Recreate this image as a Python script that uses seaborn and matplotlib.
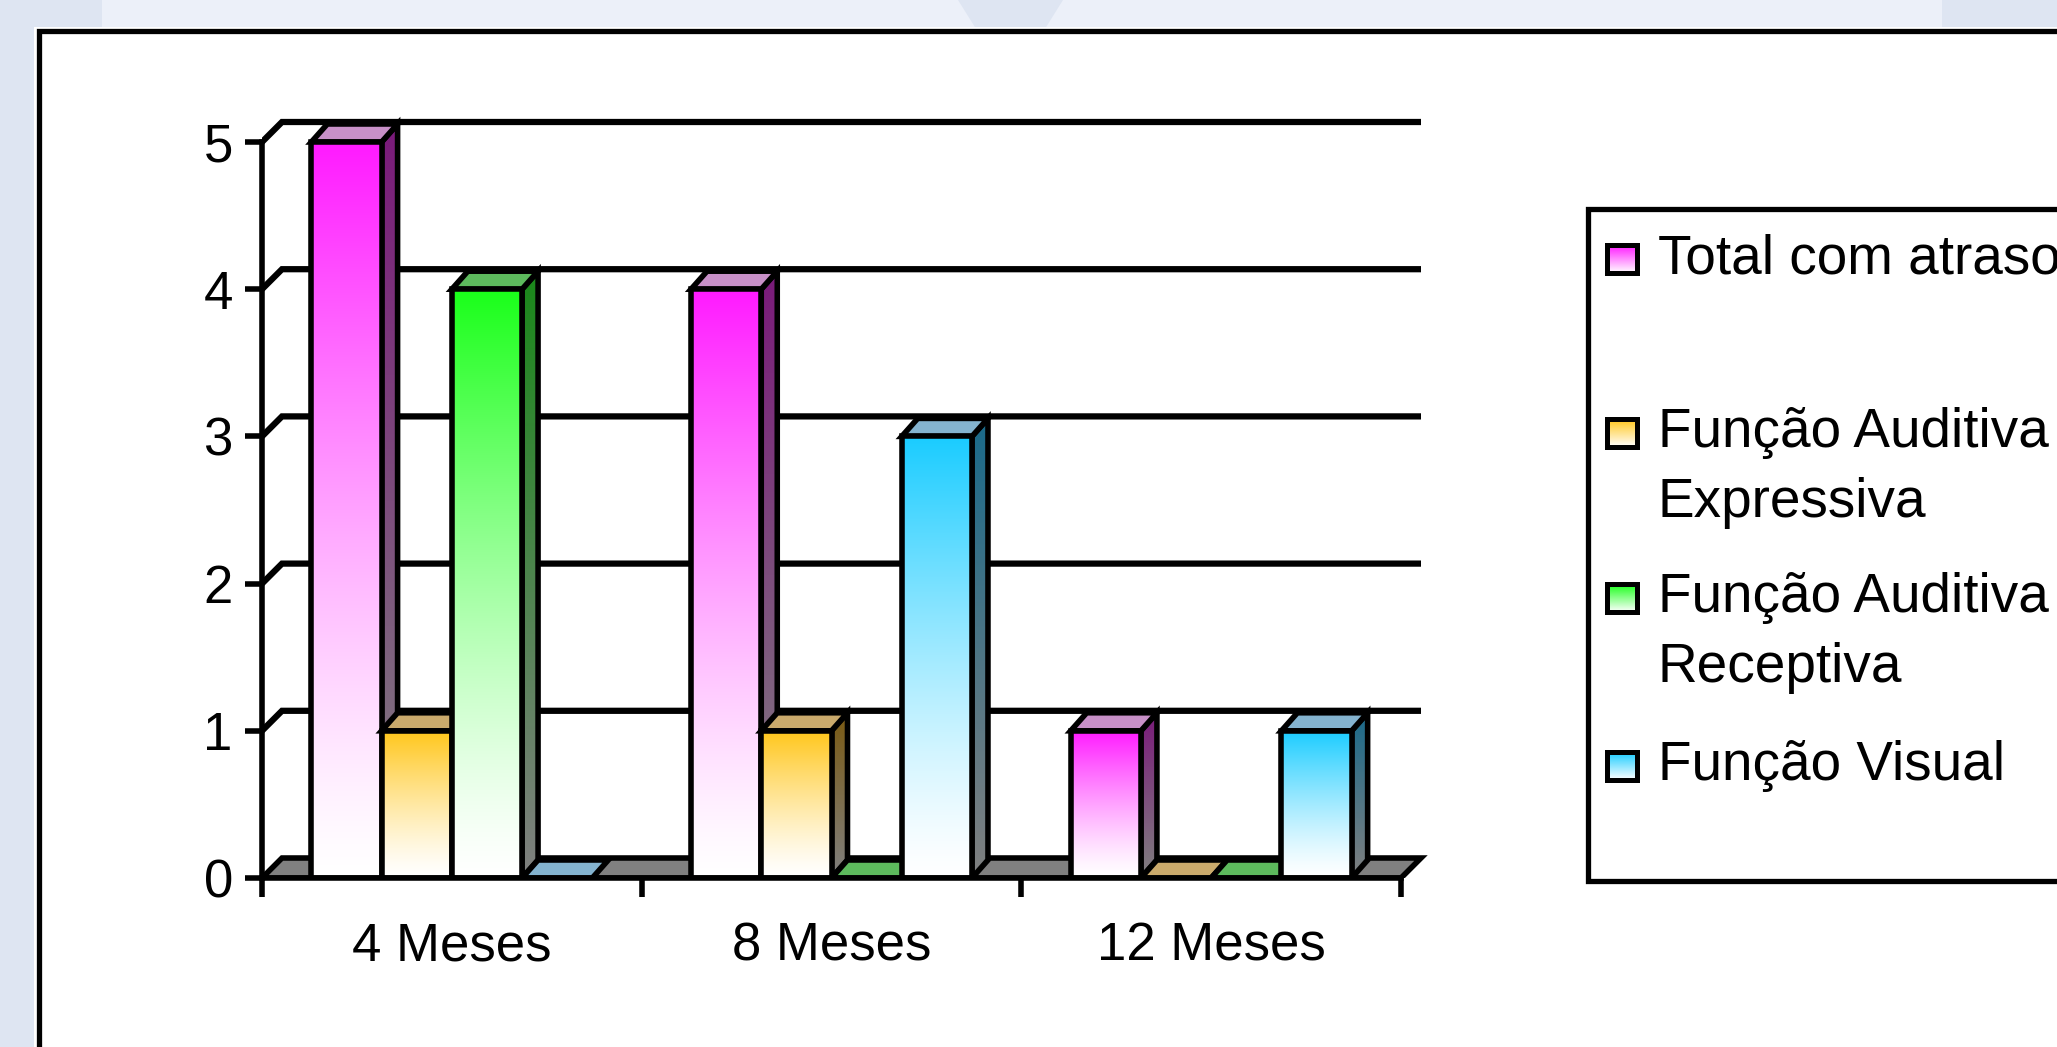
import numpy as np
import pandas as pd
import matplotlib
matplotlib.use("Agg")
import matplotlib.pyplot as plt
import seaborn as sns
from matplotlib.patches import Polygon, Rectangle
from matplotlib.colors import to_rgb

# ---- dados ----
periodos = ["4 Meses", "8 Meses", "12 Meses"]
categorias = ["Total com atraso", "Função Auditiva Expressiva",
              "Função Auditiva Receptiva", "Função Visual"]
total_com_atraso = [5, 4, 1]
auditiva_expressiva = [1, 1, 0]
auditiva_receptiva = [4, 0, 0]
funcao_visual = [0, 3, 1]
valores_y = [0, 1, 2, 3, 4, 5]
legenda_linhas = [["Total com atraso"],
                  ["Função Auditiva", "Expressiva"],
                  ["Função Auditiva", "Receptiva"],
                  ["Função Visual"]]

# ---- cores (frente, lateral, topo) ----
cor_frente = ["#FF1AFF", "#FFC61A", "#1AFF1A", "#1ACCFF"]
cor_lado = ["#7A1A7A", "#7A5A12", "#1A881A", "#1A6A8A"]
cor_topo = ["#C890C8", "#CAAA6C", "#5DBA5D", "#84B3CF"]
CINZA = "#808080"

df = pd.DataFrame({
    "Período": periodos * 4,
    "Categoria": np.repeat(categorias, len(periodos)),
    "Casos": total_com_atraso + auditiva_expressiva + auditiva_receptiva + funcao_visual,
})

sns.set_style("white")
plt.rcParams["font.family"] = ["Liberation Sans", "DejaVu Sans"]
plt.rcParams["text.color"] = "black"

W, H, DPI = 2057, 1047, 100
fig = plt.figure(figsize=(W / DPI, H / DPI), dpi=DPI, facecolor="#ECF0F9")


def fx(px):
    return px / W


def fy(py):
    return 1 - py / H


def ret_fig(x0, y0, x1, y1, **kw):
    fig.add_artist(Rectangle((fx(x0), fy(y1)), fx(x1) - fx(x0), fy(y0) - fy(y1),
                             transform=fig.transFigure, **kw))


# fundo do slide
escuro = "#DEE5F2"
for caixa in [(0, 0, 102, 32), (0, 0, 34, H), (1942, 0, W, 32)]:
    ret_fig(*caixa, facecolor=escuro, edgecolor="none", zorder=-2)
fig.add_artist(Polygon([(fx(958), fy(0)), (fx(1063), fy(0)), (fx(1043), fy(32)), (fx(978), fy(32))],
                       closed=True, transform=fig.transFigure, facecolor=escuro,
                       edgecolor="none", zorder=-2))
# painel branco do gráfico
ret_fig(34, 27, W + 60, H + 60, facecolor="white", edgecolor="none", zorder=-1.5)
ret_fig(39, 31, W + 60, H + 60, facecolor="white", edgecolor="black", lw=3.8, zorder=-1)

# ---- eixos ----
XMIN, XMAX, YMAX = -0.5, 2.6, 5.35
PXX = 1139 / 3.0      # pixels por unidade de categoria
PXY = 736 / 5.0       # pixels por caso
ax = fig.add_axes([fx(262), fy(878), (XMAX - XMIN) * PXX / W, YMAX * PXY / H])
ax.set_zorder(2)
ax.patch.set_alpha(0)

LW = 4.0
sns.barplot(data=df, x="Período", y="Casos", hue="Categoria", order=periodos,
            hue_order=categorias, palette=cor_frente, saturation=1, width=0.74,
            errorbar=None, legend=False, edgecolor="black", linewidth=LW, ax=ax)

# profundidade (efeito 3D) em unidades de dados
DXB, DYB = 16 / PXX, 18 / PXY
DXW, DYW = 20 / PXX, 20 / PXY


def gradiente(extent, c_alto, c_baixo, clip, z, gama=1.0):
    t = np.linspace(0, 1, 256)[:, None] ** gama
    a, b = np.array(to_rgb(c_alto)), np.array(to_rgb(c_baixo))
    img = (b + (a - b) * t)[:, None, :]
    im = ax.imshow(img, extent=extent, origin="lower", aspect="auto",
                   interpolation="bilinear", zorder=z)
    im.set_clip_path(clip)
    return im


# piso e linhas de grade na parede do fundo
ax.add_patch(Polygon([(XMIN, 0), (2.5, 0), (2.5 + DXW, DYW), (XMIN + DXW, DYW)], closed=True,
                     facecolor=CINZA, edgecolor="black", lw=LW, zorder=1.8,
                     joinstyle="miter"))
for v in valores_y[1:]:
    ax.plot([XMIN, XMIN + DXW, 2.5 + DXW], [v, v + DYW, v + DYW], color="black",
            lw=4.5, zorder=1.5, solid_joinstyle="miter", solid_capstyle="butt")

# barras com faces lateral e superior
barras = []
for j, cont in enumerate(ax.containers):
    for p in cont.patches:
        barras.append((p.get_x(), p.get_width(), p.get_height(), j, p))
barras.sort(key=lambda b: b[0])

for i, (x, w, h, j, p) in enumerate(barras):
    z = 3 + 0.1 * i
    if h > 0:
        lado = Polygon([(x + w, 0), (x + w + DXB, DYB), (x + w + DXB, h + DYB), (x + w, h)],
                       closed=True, facecolor="none", edgecolor="black", lw=LW,
                       zorder=z + 0.02, joinstyle="miter")
        ax.add_patch(lado)
        gradiente([x + w, x + w + DXB, 0, h + DYB], cor_lado[j], CINZA, lado, z + 0.01)
        topo = Polygon([(x, h), (x + w, h), (x + w + DXB, h + DYB), (x + DXB, h + DYB)],
                       closed=True, facecolor=cor_topo[j], edgecolor="black", lw=LW,
                       zorder=z + 0.02, joinstyle="miter")
        ax.add_patch(topo)
        p.set_facecolor("none")
        p.set_zorder(z + 0.06)
        p.set_joinstyle("miter")
        gradiente([x, x + w, 0, h], cor_frente[j], "#FFFFFF", p, z + 0.05, gama=1.3)
    else:
        p.set_visible(False)
        ax.add_patch(Polygon([(x, 0), (x + w, 0), (x + w + DXB, DYB), (x + DXB, DYB)],
                             closed=True, facecolor=cor_topo[j], edgecolor="black", lw=LW,
                             zorder=z + 0.02, joinstyle="miter"))

ax.set_xlim(XMIN, XMAX)
ax.set_ylim(0, YMAX)
ax.set_xlabel("")
ax.set_ylabel("")
for s in ["top", "right"]:
    ax.spines[s].set_visible(False)
for s in ["left", "bottom"]:
    ax.spines[s].set_linewidth(LW)
    ax.spines[s].set_color("black")
    ax.spines[s].set_zorder(10)
ax.spines["left"].set_bounds(0, 5)
ax.spines["bottom"].set_bounds(XMIN, 2.5)

ax.set_yticks(valores_y)
ax.set_yticklabels([str(v) for v in valores_y])
ax.set_xticks(range(len(periodos)))
ax.set_xticklabels(periodos)
ax.set_xticks([-0.5, 0.5, 1.5, 2.5], minor=True)
ax.tick_params(axis="y", length=12, width=LW, direction="out", color="black",
               labelcolor="black", labelsize=38, pad=9, left=True)
ax.tick_params(axis="x", which="major", length=0, pad=31, labelsize=38,
               labelcolor="black", bottom=True)
ax.tick_params(axis="x", which="minor", length=14, width=LW, direction="out",
               color="black", bottom=True)

# ---- legenda ----
ret_fig(1588, 209, W + 60, 881, facecolor="white", edgecolor="black", lw=3.8, zorder=1)
centros = [259, 433, 598, 766]
for j, (linhas, yc) in enumerate(zip(legenda_linhas, centros)):
    kax = fig.add_axes([fx(1607), fy(yc + 14), 30 / W, 28 / H])
    kax.set_zorder(3)
    t = np.linspace(0, 1, 64)[:, None]
    a, b = np.array(to_rgb(cor_frente[j])), np.ones(3)
    kax.imshow((b + (a - b) * t)[:, None, :], origin="lower", aspect="auto",
               extent=[0, 1, 0, 1], interpolation="bilinear")
    kax.set_xticks([])
    kax.set_yticks([])
    for s in kax.spines.values():
        s.set_linewidth(3.6)
        s.set_color("black")
    for k, linha in enumerate(linhas):
        fig.text(fx(1658), fy(yc + 70 * k), linha, ha="left", va="center",
                 fontsize=39.5, color="black", zorder=3)

fig.savefig("out.png", dpi=DPI, facecolor=fig.get_facecolor())
